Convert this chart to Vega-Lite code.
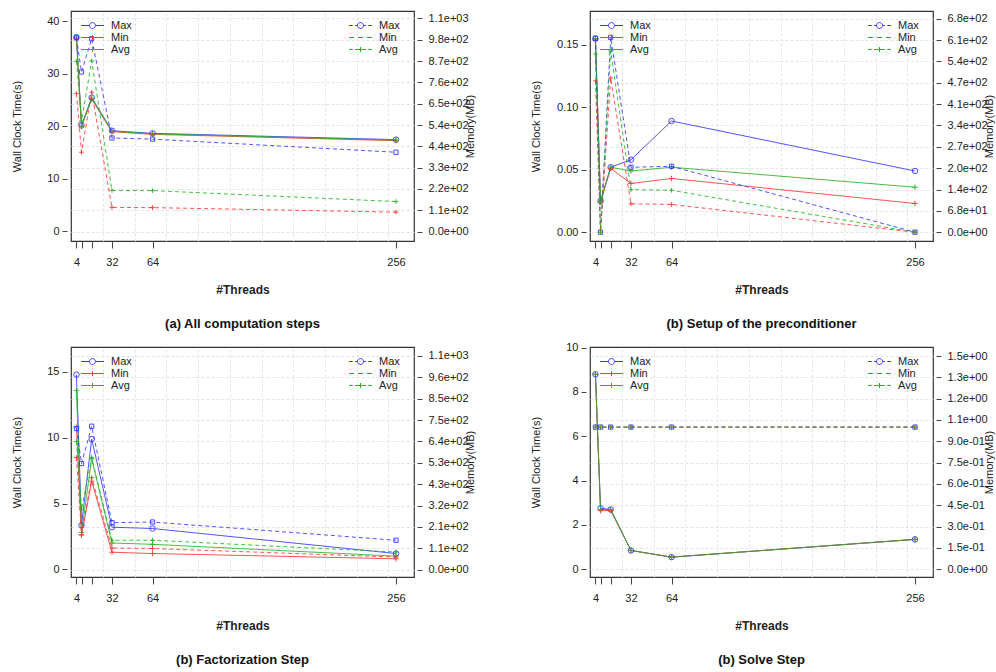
{
  "$schema": "https://vega.github.io/schema/vega-lite/v6.json",
  "padding": {"left": 10, "top": 10, "right": 2, "bottom": 2},
  "background": "white",
  "datasets": {
    "A": [
      {"threads": 4, "series": "Max", "time": 37.0, "mem": 990},
      {"threads": 8, "series": "Max", "time": 20.2, "mem": 815},
      {"threads": 16, "series": "Max", "time": 25.5, "mem": 985},
      {"threads": 32, "series": "Max", "time": 19.2, "mem": 478},
      {"threads": 64, "series": "Max", "time": 18.7, "mem": 472},
      {"threads": 256, "series": "Max", "time": 17.5, "mem": 405},
      {"threads": 4, "series": "Min", "time": 36.8, "mem": 705},
      {"threads": 8, "series": "Min", "time": 20.0, "mem": 405},
      {"threads": 16, "series": "Min", "time": 25.2, "mem": 712},
      {"threads": 32, "series": "Min", "time": 19.0, "mem": 123},
      {"threads": 64, "series": "Min", "time": 18.5, "mem": 122},
      {"threads": 256, "series": "Min", "time": 17.3, "mem": 99},
      {"threads": 4, "series": "Avg", "time": 37.0, "mem": 870},
      {"threads": 8, "series": "Avg", "time": 20.1, "mem": 565},
      {"threads": 16, "series": "Avg", "time": 25.4, "mem": 872},
      {"threads": 32, "series": "Avg", "time": 19.1, "mem": 210},
      {"threads": 64, "series": "Avg", "time": 18.6, "mem": 209},
      {"threads": 256, "series": "Avg", "time": 17.4, "mem": 153}
    ],
    "B": [
      {"threads": 4, "series": "Max", "time": 0.155, "mem": 615},
      {"threads": 8, "series": "Max", "time": 0.025, "mem": 0},
      {"threads": 16, "series": "Max", "time": 0.052, "mem": 618},
      {"threads": 32, "series": "Max", "time": 0.058, "mem": 206},
      {"threads": 64, "series": "Max", "time": 0.089, "mem": 209},
      {"threads": 256, "series": "Max", "time": 0.049, "mem": 0},
      {"threads": 4, "series": "Min", "time": 0.154, "mem": 480},
      {"threads": 8, "series": "Min", "time": 0.024, "mem": 0},
      {"threads": 16, "series": "Min", "time": 0.051, "mem": 489},
      {"threads": 32, "series": "Min", "time": 0.039, "mem": 90},
      {"threads": 64, "series": "Min", "time": 0.043, "mem": 88},
      {"threads": 256, "series": "Min", "time": 0.023, "mem": 0},
      {"threads": 4, "series": "Avg", "time": 0.155, "mem": 565},
      {"threads": 8, "series": "Avg", "time": 0.025, "mem": 0},
      {"threads": 16, "series": "Avg", "time": 0.052, "mem": 575},
      {"threads": 32, "series": "Avg", "time": 0.049, "mem": 135},
      {"threads": 64, "series": "Avg", "time": 0.052, "mem": 133},
      {"threads": 256, "series": "Avg", "time": 0.036, "mem": 0}
    ],
    "C": [
      {"threads": 4, "series": "Max", "time": 14.8, "mem": 705},
      {"threads": 8, "series": "Max", "time": 3.35, "mem": 530},
      {"threads": 16, "series": "Max", "time": 9.9, "mem": 716},
      {"threads": 32, "series": "Max", "time": 3.2, "mem": 235},
      {"threads": 64, "series": "Max", "time": 3.1, "mem": 238},
      {"threads": 256, "series": "Max", "time": 1.2, "mem": 147},
      {"threads": 4, "series": "Min", "time": 10.8, "mem": 560},
      {"threads": 8, "series": "Min", "time": 2.6, "mem": 175},
      {"threads": 16, "series": "Min", "time": 6.7, "mem": 460},
      {"threads": 32, "series": "Min", "time": 1.3, "mem": 108},
      {"threads": 64, "series": "Min", "time": 1.2, "mem": 106},
      {"threads": 256, "series": "Min", "time": 0.8, "mem": 63},
      {"threads": 4, "series": "Avg", "time": 13.6, "mem": 640},
      {"threads": 8, "series": "Avg", "time": 2.8, "mem": 300},
      {"threads": 16, "series": "Avg", "time": 8.4, "mem": 560},
      {"threads": 32, "series": "Avg", "time": 2.0, "mem": 147},
      {"threads": 64, "series": "Avg", "time": 1.9, "mem": 147},
      {"threads": 256, "series": "Avg", "time": 1.0, "mem": 88}
    ],
    "D": [
      {"threads": 4, "series": "Max", "time": 8.8, "mem": 1.0},
      {"threads": 8, "series": "Max", "time": 2.75, "mem": 1.0},
      {"threads": 16, "series": "Max", "time": 2.7, "mem": 1.0},
      {"threads": 32, "series": "Max", "time": 0.85, "mem": 1.0},
      {"threads": 64, "series": "Max", "time": 0.55, "mem": 1.0},
      {"threads": 256, "series": "Max", "time": 1.35, "mem": 1.0},
      {"threads": 4, "series": "Min", "time": 8.8, "mem": 1.0},
      {"threads": 8, "series": "Min", "time": 2.65, "mem": 1.0},
      {"threads": 16, "series": "Min", "time": 2.65, "mem": 1.0},
      {"threads": 32, "series": "Min", "time": 0.85, "mem": 1.0},
      {"threads": 64, "series": "Min", "time": 0.55, "mem": 1.0},
      {"threads": 256, "series": "Min", "time": 1.35, "mem": 1.0},
      {"threads": 4, "series": "Avg", "time": 8.8, "mem": 1.0},
      {"threads": 8, "series": "Avg", "time": 2.7, "mem": 1.0},
      {"threads": 16, "series": "Avg", "time": 2.7, "mem": 1.0},
      {"threads": 32, "series": "Avg", "time": 0.85, "mem": 1.0},
      {"threads": 64, "series": "Avg", "time": 0.55, "mem": 1.0},
      {"threads": 256, "series": "Avg", "time": 1.35, "mem": 1.0}
    ]
  },
  "columns": 2,
  "spacing": {"row": 9, "column": 53},
  "concat": [
    {
      "data": {"name": "A"},
      "width": 343, "height": 230,
      "title": {"text": "(a) All computation steps"},
      "layer": [
        {
          "encoding": {
            "x": {"field": "threads", "type": "quantitative", "scale": {"domain": [-0.3, 270.2], "nice": false, "zero": false},
                  "axis": {"values": [4, 8, 16, 32, 64, 256], "labelExpr": "datum.value == 8 || datum.value == 16 ? '' : datum.label", "labelOverlap": false, "labelFlush": false, "tickSize": 7, "labelPadding": 8, "grid": false, "domain": false, "title": "#Threads", "titleFontWeight": "bold", "titleFontSize": 12, "titlePadding": 17}},
            "y": {"field": "time", "type": "quantitative", "scale": {"domain": [-1.81, 42.0], "nice": false, "zero": false},
                  "axis": {"orient": "left", "values": [0, 10, 20, 30, 40], "format": "d", "offset": 4, "tickSize": 5, "labelPadding": 3, "grid": false, "domain": false, "title": "Wall Clock Time(s)", "titleX": -50, "titleBaseline": "middle", "titleAngle": 270}},
            "color": {"field": "series", "type": "nominal", "scale": {"domain": ["Max", "Min", "Avg"], "range": ["#3535ff", "#ff3535", "#22b522"]},
                      "legend": {"orient": "none", "legendX": 15, "legendY": 8, "title": null, "symbolOpacity": 1}}
          },
          "layer": [
            {"mark": {"type": "line", "strokeWidth": 1, "opacity": 0.85}},
            {"transform": [{"filter": "datum.series === 'Max'"}], "mark": {"type": "point", "shape": "circle", "filled": false, "size": 30, "strokeWidth": 1, "opacity": 0.9}},
            {"transform": [{"filter": "datum.series !== 'Max'"}], "mark": {"type": "point", "shape": "M-1,0H1M0,-1V1", "filled": false, "size": 30, "strokeWidth": 1, "opacity": 0.9}},
            {"mark": {"type": "point", "filled": false, "opacity": 0},
             "encoding": {"shape": {"field": "series", "type": "nominal", "scale": {"domain": ["Max", "Min", "Avg"], "range": ["M-1.9,0H-0.5M0.5,0H1.9M-0.5,0A0.5,0.5,0,1,1,0.5,0A0.5,0.5,0,1,1,-0.5,0", "M-1.9,0H1.9M0,-0.42V0.42", "M-1.9,0H1.9M0,-0.42V0.42"]},
                                    "legend": {"orient": "none", "legendX": 15, "legendY": 8, "title": null, "symbolOpacity": 1}}}}
          ]
        },
        {
          "encoding": {
            "x": {"field": "threads", "type": "quantitative", "scale": {"domain": [-0.3, 270.2], "nice": false, "zero": false},
                  "axis": {"orient": "top", "values": [25, 50, 75, 100, 125, 150, 175, 200, 225, 250], "grid": true, "ticks": false, "labels": false, "domain": false, "title": null, "gridColor": "#e4e4e4", "gridDash": [3, 2]}},
            "y": {"field": "mem", "type": "quantitative", "scale": {"domain": [-48.5, 1126.8], "nice": false, "zero": false},
                  "axis": {"orient": "right", "values": [0, 108.85, 217.7, 326.55, 435.4, 544.25, 653.1, 761.95, 870.8, 979.65, 1088.5], "labelExpr": "replace(replace(format(datum.value, '.1e'), regexp('e[+]([0-9])$'), 'e+0$1'), regexp('e-([0-9])$'), 'e-0$1')", "offset": 3, "tickSize": 5, "labelPadding": 6, "grid": true, "gridColor": "#e4e4e4", "gridDash": [3, 2], "domain": false, "title": "Memory(MB)", "titleX": 53, "titleBaseline": "middle", "titleAngle": 270}},
            "color": {"field": "series", "type": "nominal", "scale": {"domain": ["Max", "Min", "Avg"], "range": ["#3535ff", "#ff3535", "#22b522"]},
                      "legend": {"orient": "none", "legendX": 283, "legendY": 8, "title": null, "symbolOpacity": 1}}
          },
          "layer": [
            {"mark": {"type": "line", "strokeWidth": 1, "strokeDash": [4, 3], "opacity": 0.85}},
            {"transform": [{"filter": "datum.series === 'Max'"}], "mark": {"type": "point", "shape": "square", "filled": false, "size": 18, "strokeWidth": 1, "opacity": 0.9}},
            {"transform": [{"filter": "datum.series !== 'Max'"}], "mark": {"type": "point", "shape": "M-1,0H1M0,-1V1", "filled": false, "size": 22, "strokeWidth": 1, "opacity": 0.9}},
            {"mark": {"type": "point", "filled": false, "opacity": 0},
             "encoding": {"shape": {"field": "series", "type": "nominal", "scale": {"domain": ["Max", "Min", "Avg"], "range": ["M-1.9,0H-1.3M-0.9,0H-0.5M0.5,0H0.9M1.3,0H1.9M-0.5,0A0.5,0.5,0,1,1,0.5,0A0.5,0.5,0,1,1,-0.5,0", "M-1.9,0H-1.1M-0.4,0H0.4M1.1,0H1.9", "M-1.9,0H-1.3M-0.9,0H0.9M1.3,0H1.9M0,-0.42V0.42"]},
                                    "legend": {"orient": "none", "legendX": 283, "legendY": 8, "title": null, "symbolOpacity": 1}}}}
          ]
        }
      ],
      "resolve": {"scale": {"x": "independent", "y": "independent", "color": "independent", "shape": "independent"}}
    },
    {
      "data": {"name": "B"},
      "width": 343, "height": 230,
      "title": {"text": "(b) Setup of the preconditioner"},
      "layer": [
        {
          "encoding": {
            "x": {"field": "threads", "type": "quantitative", "scale": {"domain": [-0.3, 270.2], "nice": false, "zero": false},
                  "axis": {"values": [4, 8, 16, 32, 64, 256], "labelExpr": "datum.value == 8 || datum.value == 16 ? '' : datum.label", "labelOverlap": false, "labelFlush": false, "tickSize": 7, "labelPadding": 8, "grid": false, "domain": false, "title": "#Threads", "titleFontWeight": "bold", "titleFontSize": 12, "titlePadding": 17}},
            "y": {"field": "time", "type": "quantitative", "scale": {"domain": [-0.00704, 0.17706], "nice": false, "zero": false},
                  "axis": {"orient": "left", "values": [0, 0.05, 0.1, 0.15], "format": ".2f", "offset": 4, "tickSize": 5, "labelPadding": 3, "grid": false, "domain": false, "title": "Wall Clock Time(s)", "titleX": -50, "titleBaseline": "middle", "titleAngle": 270}},
            "color": {"field": "series", "type": "nominal", "scale": {"domain": ["Max", "Min", "Avg"], "range": ["#3535ff", "#ff3535", "#22b522"]},
                      "legend": {"orient": "none", "legendX": 15, "legendY": 8, "title": null, "symbolOpacity": 1}}
          },
          "layer": [
            {"mark": {"type": "line", "strokeWidth": 1, "opacity": 0.85}},
            {"transform": [{"filter": "datum.series === 'Max'"}], "mark": {"type": "point", "shape": "circle", "filled": false, "size": 30, "strokeWidth": 1, "opacity": 0.9}},
            {"transform": [{"filter": "datum.series !== 'Max'"}], "mark": {"type": "point", "shape": "M-1,0H1M0,-1V1", "filled": false, "size": 30, "strokeWidth": 1, "opacity": 0.9}},
            {"mark": {"type": "point", "filled": false, "opacity": 0},
             "encoding": {"shape": {"field": "series", "type": "nominal", "scale": {"domain": ["Max", "Min", "Avg"], "range": ["M-1.9,0H-0.5M0.5,0H1.9M-0.5,0A0.5,0.5,0,1,1,0.5,0A0.5,0.5,0,1,1,-0.5,0", "M-1.9,0H1.9M0,-0.42V0.42", "M-1.9,0H1.9M0,-0.42V0.42"]},
                                    "legend": {"orient": "none", "legendX": 15, "legendY": 8, "title": null, "symbolOpacity": 1}}}}
          ]
        },
        {
          "encoding": {
            "x": {"field": "threads", "type": "quantitative", "scale": {"domain": [-0.3, 270.2], "nice": false, "zero": false},
                  "axis": {"orient": "top", "values": [25, 50, 75, 100, 125, 150, 175, 200, 225, 250], "grid": true, "ticks": false, "labels": false, "domain": false, "title": null, "gridColor": "#e4e4e4", "gridDash": [3, 2]}},
            "y": {"field": "mem", "type": "quantitative", "scale": {"domain": [-27.9, 701.7], "nice": false, "zero": false},
                  "axis": {"orient": "right", "values": [0, 67.7, 135.4, 203.1, 270.8, 338.5, 406.2, 473.9, 541.6, 609.3, 677], "labelExpr": "replace(replace(format(datum.value, '.1e'), regexp('e[+]([0-9])$'), 'e+0$1'), regexp('e-([0-9])$'), 'e-0$1')", "offset": 3, "tickSize": 5, "labelPadding": 6, "grid": true, "gridColor": "#e4e4e4", "gridDash": [3, 2], "domain": false, "title": "Memory(MB)", "titleX": 53, "titleBaseline": "middle", "titleAngle": 270}},
            "color": {"field": "series", "type": "nominal", "scale": {"domain": ["Max", "Min", "Avg"], "range": ["#3535ff", "#ff3535", "#22b522"]},
                      "legend": {"orient": "none", "legendX": 283, "legendY": 8, "title": null, "symbolOpacity": 1}}
          },
          "layer": [
            {"mark": {"type": "line", "strokeWidth": 1, "strokeDash": [4, 3], "opacity": 0.85}},
            {"transform": [{"filter": "datum.series === 'Max'"}], "mark": {"type": "point", "shape": "square", "filled": false, "size": 18, "strokeWidth": 1, "opacity": 0.9}},
            {"transform": [{"filter": "datum.series !== 'Max'"}], "mark": {"type": "point", "shape": "M-1,0H1M0,-1V1", "filled": false, "size": 22, "strokeWidth": 1, "opacity": 0.9}},
            {"mark": {"type": "point", "filled": false, "opacity": 0},
             "encoding": {"shape": {"field": "series", "type": "nominal", "scale": {"domain": ["Max", "Min", "Avg"], "range": ["M-1.9,0H-1.3M-0.9,0H-0.5M0.5,0H0.9M1.3,0H1.9M-0.5,0A0.5,0.5,0,1,1,0.5,0A0.5,0.5,0,1,1,-0.5,0", "M-1.9,0H-1.1M-0.4,0H0.4M1.1,0H1.9", "M-1.9,0H-1.3M-0.9,0H0.9M1.3,0H1.9M0,-0.42V0.42"]},
                                    "legend": {"orient": "none", "legendX": 283, "legendY": 8, "title": null, "symbolOpacity": 1}}}}
          ]
        }
      ],
      "resolve": {"scale": {"x": "independent", "y": "independent", "color": "independent", "shape": "independent"}}
    },
    {
      "data": {"name": "C"},
      "width": 343, "height": 230,
      "title": {"text": "(b) Factorization Step"},
      "layer": [
        {
          "encoding": {
            "x": {"field": "threads", "type": "quantitative", "scale": {"domain": [-0.3, 270.2], "nice": false, "zero": false},
                  "axis": {"values": [4, 8, 16, 32, 64, 256], "labelExpr": "datum.value == 8 || datum.value == 16 ? '' : datum.label", "labelOverlap": false, "labelFlush": false, "tickSize": 7, "labelPadding": 8, "grid": false, "domain": false, "title": "#Threads", "titleFontWeight": "bold", "titleFontSize": 12, "titlePadding": 17}},
            "y": {"field": "time", "type": "quantitative", "scale": {"domain": [-0.585, 16.9], "nice": false, "zero": false},
                  "axis": {"orient": "left", "values": [0, 5, 10, 15], "format": "d", "offset": 4, "tickSize": 5, "labelPadding": 3, "grid": false, "domain": false, "title": "Wall Clock Time(s)", "titleX": -50, "titleBaseline": "middle", "titleAngle": 270}},
            "color": {"field": "series", "type": "nominal", "scale": {"domain": ["Max", "Min", "Avg"], "range": ["#3535ff", "#ff3535", "#22b522"]},
                      "legend": {"orient": "none", "legendX": 15, "legendY": 8, "title": null, "symbolOpacity": 1}}
          },
          "layer": [
            {"mark": {"type": "line", "strokeWidth": 1, "opacity": 0.85}},
            {"transform": [{"filter": "datum.series === 'Max'"}], "mark": {"type": "point", "shape": "circle", "filled": false, "size": 30, "strokeWidth": 1, "opacity": 0.9}},
            {"transform": [{"filter": "datum.series !== 'Max'"}], "mark": {"type": "point", "shape": "M-1,0H1M0,-1V1", "filled": false, "size": 30, "strokeWidth": 1, "opacity": 0.9}},
            {"mark": {"type": "point", "filled": false, "opacity": 0},
             "encoding": {"shape": {"field": "series", "type": "nominal", "scale": {"domain": ["Max", "Min", "Avg"], "range": ["M-1.9,0H-0.5M0.5,0H1.9M-0.5,0A0.5,0.5,0,1,1,0.5,0A0.5,0.5,0,1,1,-0.5,0", "M-1.9,0H1.9M0,-0.42V0.42", "M-1.9,0H1.9M0,-0.42V0.42"]},
                                    "legend": {"orient": "none", "legendX": 15, "legendY": 8, "title": null, "symbolOpacity": 1}}}}
          ]
        },
        {
          "encoding": {
            "x": {"field": "threads", "type": "quantitative", "scale": {"domain": [-0.3, 270.2], "nice": false, "zero": false},
                  "axis": {"orient": "top", "values": [25, 50, 75, 100, 125, 150, 175, 200, 225, 250], "grid": true, "ticks": false, "labels": false, "domain": false, "title": null, "gridColor": "#e4e4e4", "gridDash": [3, 2]}},
            "y": {"field": "mem", "type": "quantitative", "scale": {"domain": [-36.4, 1111.4], "nice": false, "zero": false},
                  "axis": {"orient": "right", "values": [0, 106.65, 213.3, 319.95, 426.6, 533.25, 639.9, 746.55, 853.2, 959.85, 1066.5], "labelExpr": "replace(replace(format(datum.value, '.1e'), regexp('e[+]([0-9])$'), 'e+0$1'), regexp('e-([0-9])$'), 'e-0$1')", "offset": 3, "tickSize": 5, "labelPadding": 6, "grid": true, "gridColor": "#e4e4e4", "gridDash": [3, 2], "domain": false, "title": "Memory(MB)", "titleX": 53, "titleBaseline": "middle", "titleAngle": 270}},
            "color": {"field": "series", "type": "nominal", "scale": {"domain": ["Max", "Min", "Avg"], "range": ["#3535ff", "#ff3535", "#22b522"]},
                      "legend": {"orient": "none", "legendX": 283, "legendY": 8, "title": null, "symbolOpacity": 1}}
          },
          "layer": [
            {"mark": {"type": "line", "strokeWidth": 1, "strokeDash": [4, 3], "opacity": 0.85}},
            {"transform": [{"filter": "datum.series === 'Max'"}], "mark": {"type": "point", "shape": "square", "filled": false, "size": 18, "strokeWidth": 1, "opacity": 0.9}},
            {"transform": [{"filter": "datum.series !== 'Max'"}], "mark": {"type": "point", "shape": "M-1,0H1M0,-1V1", "filled": false, "size": 22, "strokeWidth": 1, "opacity": 0.9}},
            {"mark": {"type": "point", "filled": false, "opacity": 0},
             "encoding": {"shape": {"field": "series", "type": "nominal", "scale": {"domain": ["Max", "Min", "Avg"], "range": ["M-1.9,0H-1.3M-0.9,0H-0.5M0.5,0H0.9M1.3,0H1.9M-0.5,0A0.5,0.5,0,1,1,0.5,0A0.5,0.5,0,1,1,-0.5,0", "M-1.9,0H-1.1M-0.4,0H0.4M1.1,0H1.9", "M-1.9,0H-1.3M-0.9,0H0.9M1.3,0H1.9M0,-0.42V0.42"]},
                                    "legend": {"orient": "none", "legendX": 283, "legendY": 8, "title": null, "symbolOpacity": 1}}}}
          ]
        }
      ],
      "resolve": {"scale": {"x": "independent", "y": "independent", "color": "independent", "shape": "independent"}}
    },
    {
      "data": {"name": "D"},
      "width": 343, "height": 230,
      "title": {"text": "(b) Solve Step"},
      "layer": [
        {
          "encoding": {
            "x": {"field": "threads", "type": "quantitative", "scale": {"domain": [-0.3, 270.2], "nice": false, "zero": false},
                  "axis": {"values": [4, 8, 16, 32, 64, 256], "labelExpr": "datum.value == 8 || datum.value == 16 ? '' : datum.label", "labelOverlap": false, "labelFlush": false, "tickSize": 7, "labelPadding": 8, "grid": false, "domain": false, "title": "#Threads", "titleFontWeight": "bold", "titleFontSize": 12, "titlePadding": 17}},
            "y": {"field": "time", "type": "quantitative", "scale": {"domain": [-0.347, 10.03], "nice": false, "zero": false},
                  "axis": {"orient": "left", "values": [0, 2, 4, 6, 8, 10], "format": "d", "offset": 4, "tickSize": 5, "labelPadding": 3, "grid": false, "domain": false, "title": "Wall Clock Time(s)", "titleX": -50, "titleBaseline": "middle", "titleAngle": 270}},
            "color": {"field": "series", "type": "nominal", "scale": {"domain": ["Max", "Min", "Avg"], "range": ["#3535ff", "#ff3535", "#22b522"]},
                      "legend": {"orient": "none", "legendX": 15, "legendY": 8, "title": null, "symbolOpacity": 1}}
          },
          "layer": [
            {"mark": {"type": "line", "strokeWidth": 1, "opacity": 0.85}},
            {"transform": [{"filter": "datum.series === 'Max'"}], "mark": {"type": "point", "shape": "circle", "filled": false, "size": 30, "strokeWidth": 1, "opacity": 0.9}},
            {"transform": [{"filter": "datum.series !== 'Max'"}], "mark": {"type": "point", "shape": "M-1,0H1M0,-1V1", "filled": false, "size": 30, "strokeWidth": 1, "opacity": 0.9}},
            {"mark": {"type": "point", "filled": false, "opacity": 0},
             "encoding": {"shape": {"field": "series", "type": "nominal", "scale": {"domain": ["Max", "Min", "Avg"], "range": ["M-1.9,0H-0.5M0.5,0H1.9M-0.5,0A0.5,0.5,0,1,1,0.5,0A0.5,0.5,0,1,1,-0.5,0", "M-1.9,0H1.9M0,-0.42V0.42", "M-1.9,0H1.9M0,-0.42V0.42"]},
                                    "legend": {"orient": "none", "legendX": 15, "legendY": 8, "title": null, "symbolOpacity": 1}}}}
          ]
        },
        {
          "encoding": {
            "x": {"field": "threads", "type": "quantitative", "scale": {"domain": [-0.3, 270.2], "nice": false, "zero": false},
                  "axis": {"orient": "top", "values": [25, 50, 75, 100, 125, 150, 175, 200, 225, 250], "grid": true, "ticks": false, "labels": false, "domain": false, "title": null, "gridColor": "#e4e4e4", "gridDash": [3, 2]}},
            "y": {"field": "mem", "type": "quantitative", "scale": {"domain": [-0.0541, 1.5633], "nice": false, "zero": false},
                  "axis": {"orient": "right", "values": [0, 0.15, 0.3, 0.45, 0.6, 0.75, 0.9, 1.05, 1.2, 1.349, 1.5], "labelExpr": "replace(replace(format(datum.value, '.1e'), regexp('e[+]([0-9])$'), 'e+0$1'), regexp('e-([0-9])$'), 'e-0$1')", "offset": 3, "tickSize": 5, "labelPadding": 6, "grid": true, "gridColor": "#e4e4e4", "gridDash": [3, 2], "domain": false, "title": "Memory(MB)", "titleX": 53, "titleBaseline": "middle", "titleAngle": 270}},
            "color": {"field": "series", "type": "nominal", "scale": {"domain": ["Max", "Min", "Avg"], "range": ["#3535ff", "#ff3535", "#22b522"]},
                      "legend": {"orient": "none", "legendX": 283, "legendY": 8, "title": null, "symbolOpacity": 1}}
          },
          "layer": [
            {"mark": {"type": "line", "strokeWidth": 1, "strokeDash": [4, 3], "opacity": 0.85}},
            {"transform": [{"filter": "datum.series === 'Max'"}], "mark": {"type": "point", "shape": "square", "filled": false, "size": 18, "strokeWidth": 1, "opacity": 0.9}},
            {"transform": [{"filter": "datum.series !== 'Max'"}], "mark": {"type": "point", "shape": "M-1,0H1M0,-1V1", "filled": false, "size": 22, "strokeWidth": 1, "opacity": 0.9}},
            {"mark": {"type": "point", "filled": false, "opacity": 0},
             "encoding": {"shape": {"field": "series", "type": "nominal", "scale": {"domain": ["Max", "Min", "Avg"], "range": ["M-1.9,0H-1.3M-0.9,0H-0.5M0.5,0H0.9M1.3,0H1.9M-0.5,0A0.5,0.5,0,1,1,0.5,0A0.5,0.5,0,1,1,-0.5,0", "M-1.9,0H-1.1M-0.4,0H0.4M1.1,0H1.9", "M-1.9,0H-1.3M-0.9,0H0.9M1.3,0H1.9M0,-0.42V0.42"]},
                                    "legend": {"orient": "none", "legendX": 283, "legendY": 8, "title": null, "symbolOpacity": 1}}}}
          ]
        }
      ],
      "resolve": {"scale": {"x": "independent", "y": "independent", "color": "independent", "shape": "independent"}}
    }
  ],
  "config": {
    "font": "Liberation Sans",
    "view": {"stroke": "#333", "strokeWidth": 1.2},
    "axis": {"labelFontSize": 11, "labelColor": "#222", "tickColor": "#444", "titleFontSize": 11, "titleFontWeight": "normal", "titleColor": "#222"},
    "legend": {"labelFontSize": 11, "labelColor": "#222", "symbolSize": 144, "symbolStrokeWidth": 1, "padding": 0, "rowPadding": 0, "labelOffset": 12},
    "title": {"orient": "bottom", "fontSize": 13, "fontWeight": "bold", "offset": 23, "color": "#111", "anchor": "middle"}
  }
}
